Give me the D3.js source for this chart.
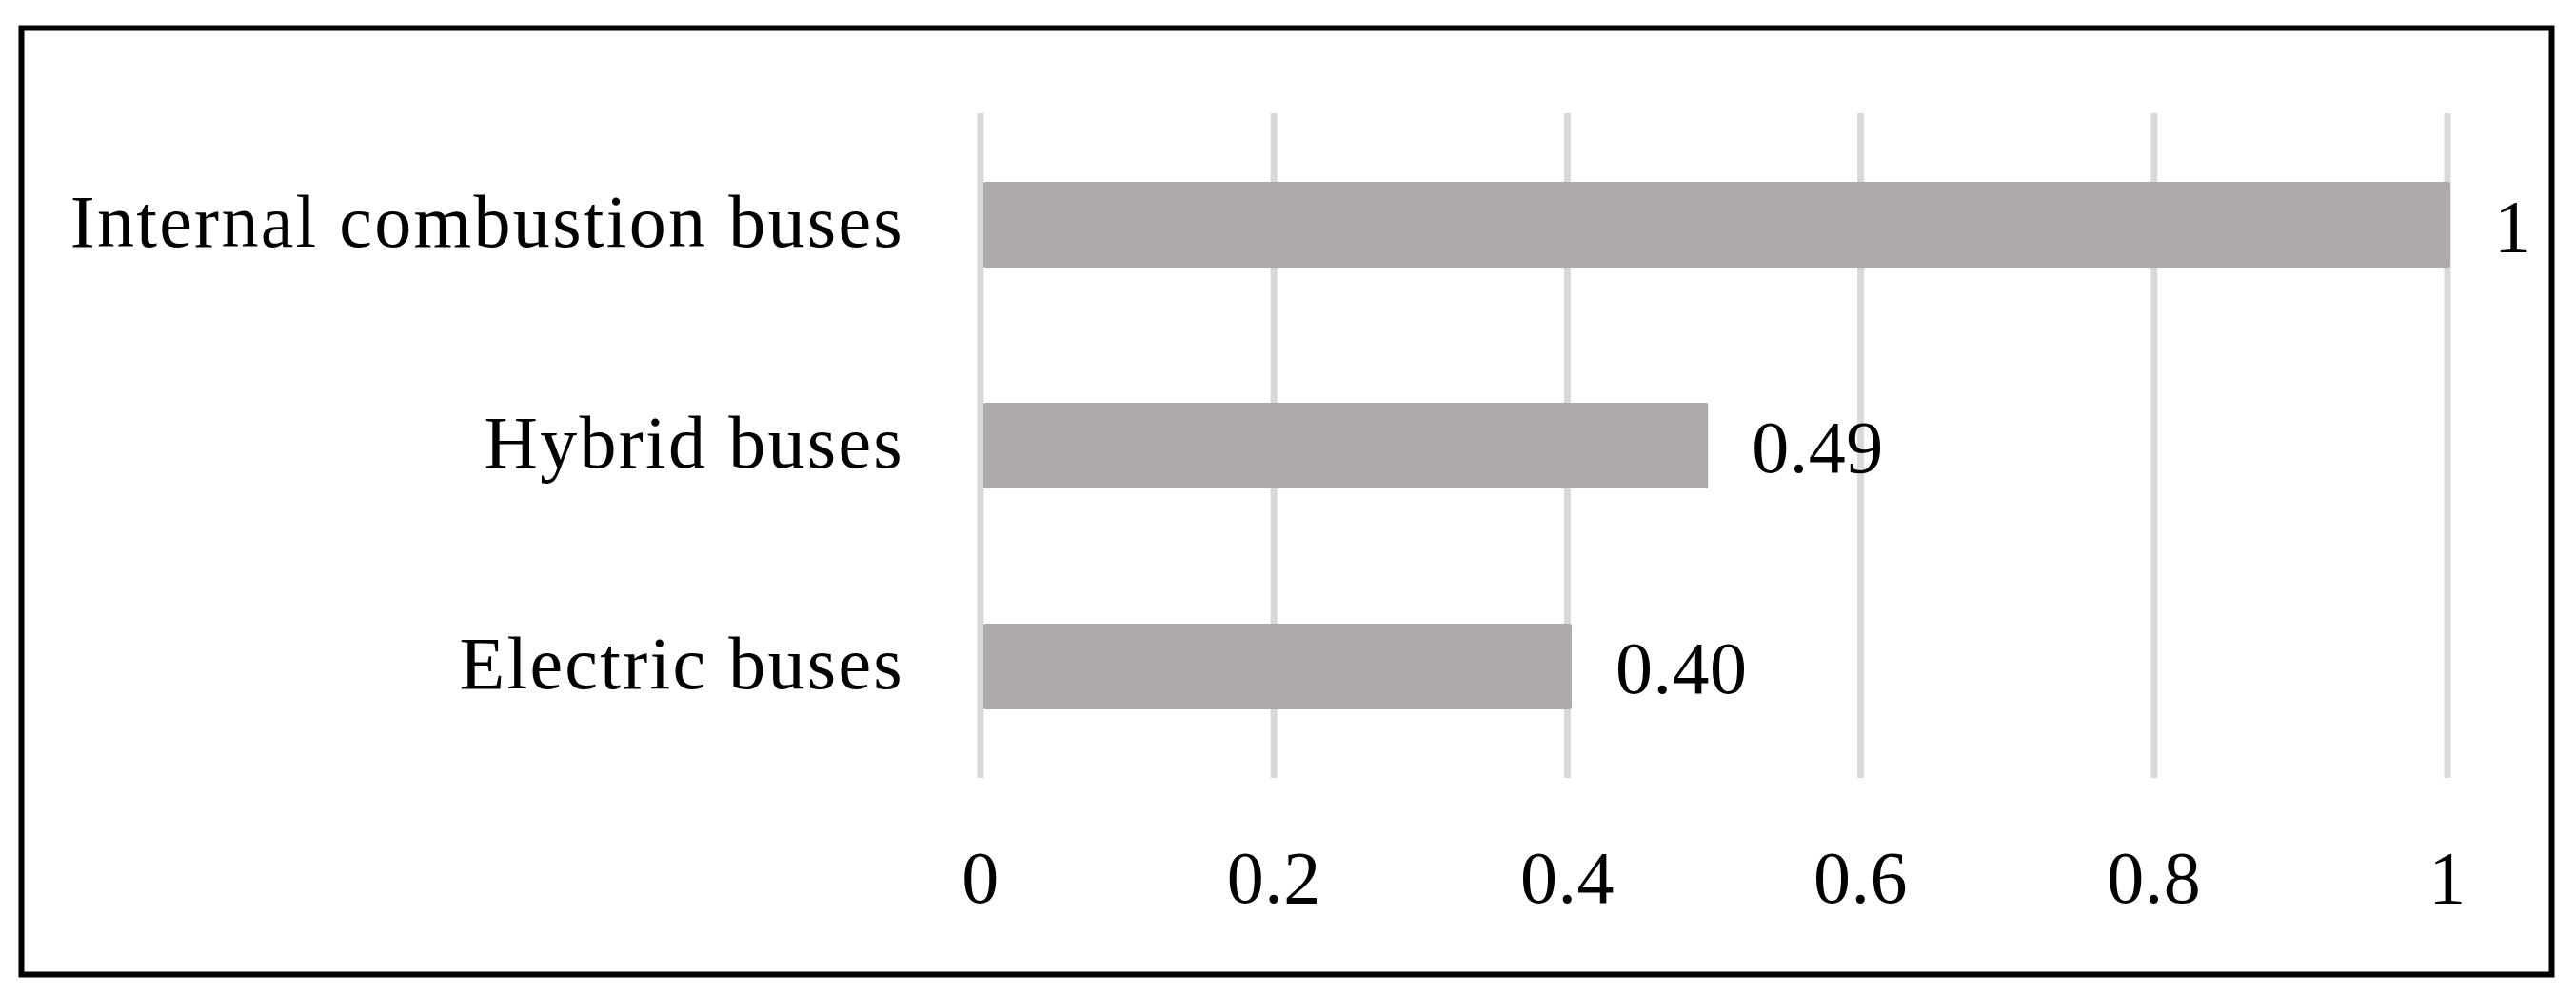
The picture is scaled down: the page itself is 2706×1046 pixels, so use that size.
<!DOCTYPE html>
<html>
<head>
<meta charset="utf-8">
<script src="https://cdn.jsdelivr.net/npm/d3@7"></script>
<style>
  html, body { margin: 0; padding: 0; background: #ffffff; }
  svg { display: block; }
</style>
</head>
<body>
<svg id="chart" width="2706" height="1046"></svg>
<script>
const categories = ["Internal combustion buses", "Hybrid buses", "Electric buses"];
const values = [1, 0.494, 0.401];
const valueLabels = ["1", "0.49", "0.40"];
const tickValues = [0, 0.2, 0.4, 0.6, 0.8, 1];
const tickLabels = ["0", "0.2", "0.4", "0.6", "0.8", "1"];

const W = 2706, H = 1046;
const FONT = "'Liberation Serif', 'Times New Roman', serif";
const FS = 78;

const svg = d3.select("#chart");

svg.append("rect")
  .attr("x", 22.5).attr("y", 29.5)
  .attr("width", 2658).attr("height", 994)
  .attr("fill", "#ffffff").attr("stroke", "#000000").attr("stroke-width", 6);

const x = d3.scaleLinear().domain([0, 1]).range([1029.5, 2570.5]);
const plotTop = 119, plotBottom = 817;
const y = d3.scaleBand().domain(categories).range([120, 816])
  .paddingInner(0.612).paddingOuter(0.306);

// gridlines
const grid = svg.append("g")
  .attr("transform", `translate(0,${plotBottom})`)
  .call(d3.axisBottom(x).tickValues(tickValues).tickSize(-(plotBottom - plotTop)).tickFormat(""));
grid.select(".domain").remove();
grid.selectAll(".tick line").attr("stroke", "#d9d9d9").attr("stroke-width", 7);

// bars
const half = 3.5;
svg.append("g").selectAll("rect")
  .data(categories)
  .join("rect")
  .attr("x", x(0) + half)
  .attr("y", d => y(d))
  .attr("width", (d, i) => x(values[i]) - x(0))
  .attr("height", y.bandwidth())
  .attr("rx", 2)
  .attr("fill", "#aeaaaa");

// value labels
svg.append("g").selectAll("text")
  .data(categories)
  .join("text")
  .attr("x", (d, i) => x(values[i]) + half + 46)
  .attr("y", d => y(d) + y.bandwidth() / 2)
  .attr("dy", "0.36em")
  .attr("font-family", FONT)
  .attr("font-size", FS)
  .attr("letter-spacing", 0.5)
  .attr("fill", "#000000")
  .text((d, i) => valueLabels[i]);

// x-axis tick labels
const xAxis = svg.append("g")
  .attr("transform", "translate(0,948)")
  .call(d3.axisBottom(x).tickValues(tickValues).tickSize(0).tickPadding(0)
    .tickFormat((d, i) => tickLabels[i]));
xAxis.select(".domain").remove();
xAxis.selectAll(".tick text")
  .attr("y", 0).attr("dy", 0)
  .attr("font-family", FONT).attr("font-size", FS)
  .attr("letter-spacing", 0.5)
  .attr("fill", "#000000");

// category labels
const yAxis = svg.append("g")
  .attr("transform", "translate(950,0)")
  .call(d3.axisLeft(y).tickSize(0).tickPadding(0));
yAxis.select(".domain").remove();
yAxis.selectAll(".tick text")
  .attr("x", 0).attr("dy", "0.29em")
  .attr("font-family", FONT).attr("font-size", FS)
  .attr("letter-spacing", 2.3)
  .attr("fill", "#000000");
</script>
</body>
</html>
